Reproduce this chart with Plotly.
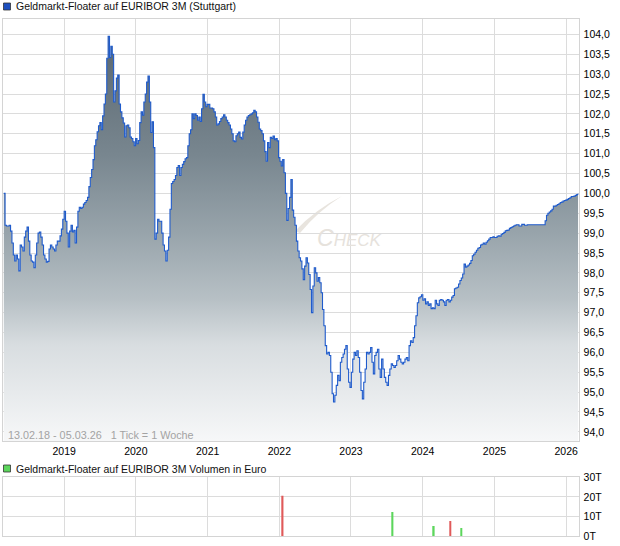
import pandas as pd
import plotly.graph_objects as go

# ---------------- data ----------------
series_start = "2018-02-13"          # first weekly tick ("1 Tick = 1 Woche")
price_weeks = [
    2, 3, 4, 6, 7, 8, 9, 10, 11, 12, 13, 14, 15, 16, 17, 18, 19, 20, 21, 22, 23, 24, 25, 26, 27, 28, 29, 30,
    31, 32, 33, 34, 35, 36, 37, 38, 39, 40, 41, 43, 44, 45, 46, 47, 48, 49, 50, 51, 52, 53, 54, 55, 56, 57,
    58, 59, 60, 61, 62, 63, 64, 65, 66, 67, 68, 69, 70, 71, 72, 73, 74, 75, 76, 77, 78, 79, 80, 81, 82, 83,
    84, 85, 86, 87, 88, 89, 90, 91, 92, 93, 94, 95, 96, 97, 98, 99, 100, 101, 102, 103, 104, 105, 106, 107,
    108, 109, 110, 111, 112, 113, 114, 115, 116, 117, 118, 119, 120, 121, 122, 123, 124, 125, 126, 127, 128,
    129, 130, 131, 132, 133, 134, 135, 136, 137, 138, 139, 140, 141, 142, 143, 144, 145, 146, 147, 148, 149,
    150, 151, 152, 154, 155, 156, 157, 158, 159, 160, 161, 162, 163, 164, 165, 166, 167, 168, 169, 170, 171,
    172, 173, 174, 175, 176, 177, 178, 179, 180, 181, 182, 183, 184, 185, 186, 187, 188, 189, 190, 191, 192,
    193, 194, 195, 196, 197, 198, 199, 200, 201, 202, 203, 204, 205, 206, 207, 208, 209, 210, 211, 212, 213,
    214, 215, 216, 217, 218, 219, 220, 221, 222, 223, 224, 225, 226, 227, 228, 229, 230, 231, 232, 233, 234,
    235, 236, 237, 238, 239, 240, 241, 242, 243, 244, 245, 246, 247, 248, 249, 250, 251, 252, 253, 254, 255,
    256, 257, 258, 259, 260, 261, 262, 263, 264, 265, 266, 267, 268, 269, 270, 271, 272, 273, 274, 275, 276,
    277, 278, 279, 280, 281, 282, 283, 284, 285, 286, 287, 288, 289, 290, 291, 292, 293, 294, 295, 296, 297,
    298, 299, 300, 301, 302, 303, 304, 305, 306, 307, 308, 309, 310, 311, 312, 313, 314, 315, 316, 317, 318,
    319, 320, 321, 322, 323, 324, 325, 326, 327, 328, 329, 330, 331, 332, 333, 334, 335, 336, 337, 338, 339,
    340, 341, 342, 343, 344, 345, 346, 347, 348, 349, 350, 351, 352, 353, 354, 355, 356, 357, 358, 359, 360,
    361, 362, 363, 364, 365, 366, 367, 368, 369, 370, 371, 372, 373, 374, 375, 377, 379, 381, 383, 386, 388,
    391, 393, 395, 396, 397, 398, 399, 400, 401, 402, 403, 404, 405, 406, 407, 408, 409, 410, 411, 412, 413,
    414, 415, 416, 417, 418, 419, 420,
]
price_values = [
    100.0, 99.2, 99.18, 99.2, 99.05, 98.75, 98.45, 98.3, 98.45, 98.35, 98.05, 98.7, 98.65, 98.55, 98.9, 99.05,
    99.15, 98.8, 98.45, 98.3, 98.27, 98.13, 98.45, 98.75, 99.0, 99.03, 98.9, 98.7, 98.45, 98.35, 98.27, 98.29,
    98.6, 98.7, 98.65, 98.6, 98.55, 98.7, 98.8, 98.93, 99.1, 99.35, 99.55, 99.3, 99.0, 98.65, 99.05, 99.2,
    99.03, 99.07, 98.75, 99.15, 99.55, 99.65, 99.62, 99.65, 99.73, 99.77, 99.82, 99.9, 100.17, 100.4, 100.6,
    100.85, 101.2, 101.35, 101.55, 101.7, 101.78, 101.6, 101.95, 102.25, 102.5, 103.4, 103.95, 103.42, 103.7,
    103.5, 102.3, 102.58, 102.9, 102.98, 102.25, 102.05, 101.9, 101.77, 101.42, 101.7, 101.72, 101.65, 101.42,
    101.38, 101.3, 101.2, 101.38, 101.25, 101.33, 101.78, 102.05, 101.97, 102.3, 102.5, 102.8, 102.95, 102.3,
    101.53, 101.8, 101.15, 98.85, 99.0, 99.35, 99.3, 99.3, 99.0, 98.7, 98.55, 98.3, 98.57, 98.9, 99.6, 100.25,
    100.3, 100.35, 100.45, 100.65, 100.7, 100.45, 100.65, 100.73, 100.8, 100.87, 100.9, 101.2, 101.5, 101.6,
    102.0, 101.88, 102.0, 101.96, 101.84, 101.92, 101.81, 102.13, 102.49, 102.3, 102.18, 102.24, 102.24,
    102.15, 102.13, 102.05, 101.92, 101.72, 101.75, 101.81, 101.88, 101.92, 101.98, 101.92, 101.84, 101.78,
    101.72, 101.62, 101.5, 101.32, 101.3, 101.45, 101.5, 101.54, 101.41, 101.37, 101.54, 101.72, 101.84,
    101.92, 101.96, 101.98, 102.0, 102.03, 102.09, 102.05, 101.92, 101.79, 101.62, 101.58, 101.5, 101.32,
    101.05, 100.81, 101.28, 101.15, 101.41, 101.38, 101.44, 101.35, 101.38, 101.32, 100.9, 100.81, 100.69,
    100.85, 100.52, 100.0, 99.32, 99.62, 99.9, 100.35, 99.58, 99.4, 99.2, 98.8, 98.55, 98.38, 98.3, 98.1,
    97.83, 98.17, 98.38, 98.25, 97.96, 97.58, 97.0, 97.67, 98.13, 98.0, 97.79, 97.88, 97.75, 97.5, 97.08,
    96.67, 96.17, 95.96, 96.0, 95.92, 95.5, 94.96, 94.75, 94.92, 95.17, 95.42, 95.29, 95.75, 95.87, 95.96,
    96.08, 96.17, 95.58, 95.25, 95.12, 95.5, 95.83, 96.0, 95.92, 96.04, 95.87, 95.5, 95.04, 94.83, 95.25,
    95.58, 96.0, 95.96, 96.0, 96.12, 95.75, 95.46, 95.92, 96.0, 96.08, 95.58, 95.37, 95.83, 95.58, 95.37,
    95.25, 95.17, 95.42, 95.58, 95.71, 95.67, 95.62, 95.67, 95.79, 95.92, 95.83, 95.75, 95.71, 95.75, 95.83,
    95.87, 95.79, 96.17, 96.29, 96.25, 96.37, 96.67, 96.92, 97.25, 97.37, 97.4, 97.45, 97.31, 97.35, 97.22,
    97.27, 97.18, 97.22, 97.1, 97.12, 97.1, 97.31, 97.22, 97.18, 97.31, 97.33, 97.31, 97.27, 97.18, 97.31,
    97.33, 97.27, 97.31, 97.39, 97.43, 97.6, 97.62, 97.64, 97.72, 97.81, 97.87, 97.97, 98.22, 98.14, 98.17,
    98.2, 98.24, 98.31, 98.43, 98.47, 98.52, 98.57, 98.62, 98.64, 98.7, 98.72, 98.75, 98.72, 98.77, 98.81,
    98.85, 98.89, 98.89, 98.91, 98.89, 98.89, 98.92, 98.93, 98.92, 98.97, 98.99, 99.02, 99.06, 99.07, 99.08,
    99.12, 99.14, 99.16, 99.18, 99.2, 99.21, 99.18, 99.22, 99.2, 99.21, 99.21, 99.21, 99.21, 99.21, 99.21,
    99.31, 99.45, 99.5, 99.53, 99.56, 99.6, 99.68, 99.68, 99.7, 99.72, 99.74, 99.77, 99.78, 99.81, 99.82,
    99.83, 99.85, 99.87, 99.89, 99.92, 99.92, 99.93, 99.95, 99.97, 100.0,
]

volume_weeks = [205, 285, 315, 327, 335]
volume_values = [20600, 12400, 5250, 7800, 4200]
volume_direction = ["down", "up", "up", "down", "up"]

year_ticks = ["2019-01-01", "2020-01-01", "2021-01-01", "2022-01-01",
              "2023-01-01", "2024-01-01", "2025-01-01", "2026-01-01"]
price_ticks = [94.0, 94.5, 95.0, 95.5, 96.0, 96.5, 97.0, 97.5, 98.0, 98.5, 99.0,
               99.5, 100.0, 100.5, 101.0, 101.5, 102.0, 102.5, 103.0, 103.5, 104.0]
volume_ticks = [0, 10000, 20000, 30000]
volume_tick_labels = ["0T", "10T", "20T", "30T"]

title_main = "Geldmarkt-Floater auf EURIBOR 3M (Stuttgart)"
title_volume = "Geldmarkt-Floater auf EURIBOR 3M Volumen in Euro"
period_text = "13.02.18 - 05.03.26\u00a0\u00a0 1 Tick = 1 Woche"

# ---------------- build ----------------
W, H = 620, 546
FS = 10.5
t0 = pd.Timestamp(series_start)
price_dates = [t0 + pd.Timedelta(weeks=w) for w in price_weeks]
volume_dates = [t0 + pd.Timedelta(weeks=w) for w in volume_weeks]
dir_colors = {"up": "#5cd65c", "down": "#e05a5a"}


def px_x(x):
    return x / W


def px_y(y):
    return (H - y) / H


x_dom = [px_x(3.3), px_x(578.5)]
x_range = ["2018-02-25", "2026-03-05"]
grid = "#dcdcdc"

fig = go.Figure()

fig.add_trace(go.Scatter(
    x=price_dates, y=price_values, mode="lines",
    line=dict(color="#1f5bcc", width=1.1, shape="hv"),
    fill="tozeroy",
    fillgradient=dict(
        type="vertical",
        start=93.8, stop=104.2,
        colorscale=[[0.0, "#f6f7f8"], [0.23, "#d8dde0"], [0.34, "#b7c0c5"],
                    [0.5, "#98a4ab"], [0.69, "#78868f"], [0.93, "#5f6c75"], [1.0, "#5a6770"]],
    ),
    hoverinfo="skip", xaxis="x", yaxis="y",
))

fig.add_trace(go.Bar(
    x=volume_dates, y=volume_values,
    marker=dict(color=[dir_colors[d] for d in volume_direction], line=dict(width=0)),
    width=8 * 86400000, xaxis="x2", yaxis="y2", hoverinfo="skip",
))

axis_common = dict(showgrid=True, gridcolor=grid, gridwidth=1, zeroline=False,
                   showline=True, linecolor="#d4d4d4", linewidth=1, mirror=True,
                   automargin=False)

fig.update_layout(
    width=W, height=H, autosize=False,
    margin=dict(l=0, r=0, t=0, b=0, pad=0, autoexpand=False),
    paper_bgcolor="white", plot_bgcolor="white",
    showlegend=False,
    separators=",.",
    font=dict(family="Liberation Sans, Arial, sans-serif", size=FS, color="#000"),
    xaxis=dict(domain=x_dom, range=x_range, type="date", anchor="y",
               tickvals=year_ticks, tickformat="%Y", ticks="", tickfont=dict(size=FS),
               **axis_common),
    yaxis=dict(domain=[px_y(441), px_y(18.5)], range=[93.77, 104.40], side="right",
               anchor="x", tickvals=price_ticks, tickformat=".1f", ticks="outside",
               ticklen=2, tickcolor="rgba(0,0,0,0)", tickfont=dict(size=FS),
               **axis_common),
    xaxis2=dict(domain=x_dom, range=x_range, type="date", anchor="y2", matches="x",
                tickvals=year_ticks, showticklabels=False, ticks="", **axis_common),
    yaxis2=dict(domain=[px_y(536.3), px_y(477.3)], range=[0, 30000], side="right",
                anchor="x2", tickvals=volume_ticks, ticktext=volume_tick_labels,
                ticks="outside", ticklen=2, tickcolor="rgba(0,0,0,0)",
                tickfont=dict(size=FS), **axis_common),
)

# legend-like headers
fig.add_shape(type="rect", xref="paper", yref="paper",
              x0=px_x(3.5), x1=px_x(10.5), y0=px_y(10), y1=px_y(3),
              fillcolor="#1d4fbf", line=dict(color="#333", width=0.8))
fig.add_shape(type="rect", xref="paper", yref="paper",
              x0=px_x(3.5), x1=px_x(10.5), y0=px_y(472), y1=px_y(465),
              fillcolor="#5cd65c", line=dict(color="#333", width=0.8))
fig.add_annotation(text=title_main, xref="paper", yref="paper", x=px_x(14), y=px_y(6.5),
                   xanchor="left", yanchor="middle", showarrow=False,
                   font=dict(size=FS, color="#111"))
fig.add_annotation(text=title_volume, xref="paper", yref="paper", x=px_x(14), y=px_y(468.5),
                   xanchor="left", yanchor="middle", showarrow=False,
                   font=dict(size=FS, color="#111"))
fig.add_annotation(text=period_text, xref="paper", yref="paper", x=px_x(6), y=px_y(434.5),
                   xanchor="left", yanchor="middle", showarrow=False,
                   font=dict(size=10.8, color="#a3a3a3"))

# watermark
sw = [(295, 231), (316, 209), (342, 196), (318, 211), (300, 233)]
path = "M {},{} Q {},{} {},{} Q {},{} {},{} Z".format(
    px_x(sw[0][0]), px_y(sw[0][1]), px_x(sw[1][0]), px_y(sw[1][1]),
    px_x(sw[2][0]), px_y(sw[2][1]), px_x(sw[3][0]), px_y(sw[3][1]),
    px_x(sw[4][0]), px_y(sw[4][1]))
fig.add_shape(type="path", xref="paper", yref="paper", path=path, layer="below",
              fillcolor="#e8e4de", line=dict(width=0))
fig.add_annotation(text="<i><span style='font-size:23px'>C</span>HECK</i>",
                   xref="paper", yref="paper", x=px_x(349), y=px_y(238),
                   xanchor="center", yanchor="middle", showarrow=False,
                   font=dict(size=17, color="#e6e2dc", family="Liberation Sans, Arial"))

fig.write_html("out.html", config={"displayModeBar": False},
               post_script="document.body.style.margin='0';document.body.style.overflow='hidden';")
